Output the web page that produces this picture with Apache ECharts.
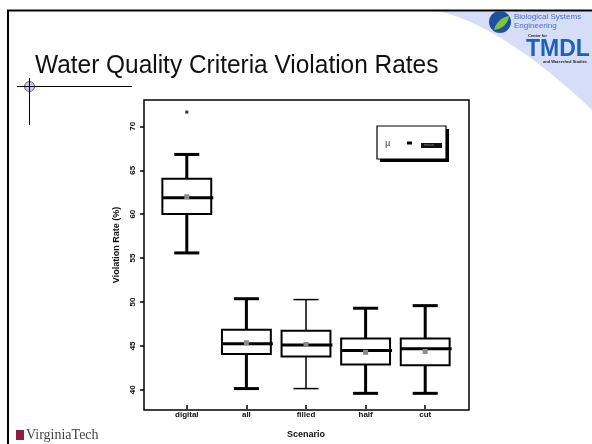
<!DOCTYPE html>
<html><head><meta charset="utf-8">
<script src="https://cdn.jsdelivr.net/npm/echarts@6/dist/echarts.min.js"></script>
<style>html,body{margin:0;padding:0;background:#fff}#c{width:592px;height:444px}</style>
</head><body><div id="c"></div>
<script>
// ---- data ----
const categories = ['digital', 'all', 'filled', 'half', 'cut'];
const lowWhisker = [55.3, 39.6, 39.6, 39.05, 39.05];
const q1 = [59.8, 43.6, 43.3, 42.4, 42.3];
const medians = [61.7, 44.8, 44.65, 44.0, 44.2];
const q3 = [63.9, 46.4, 46.3, 45.4, 45.4];
const highWhisker = [66.7, 50.0, 49.9, 48.9, 49.2];
const means = [61.8, 44.9, 44.7, 43.8, 43.9];
const outliers = [['digital', 71.6]];
const yTicks = [40, 45, 50, 55, 60, 65, 70];

// styles (not data)
const whiskerW = [3, 3, 1.5, 3, 3];

const boxData = categories.map((c, i) => [i, lowWhisker[i], q1[i], medians[i], q3[i], highWhisker[i], means[i]]);

function bezierPts(p0, p1, p2, p3, n) {
  const pts = [];
  for (let k = 0; k <= n; k++) {
    const t = k / n, u = 1 - t;
    pts.push([
      u*u*u*p0[0] + 3*u*u*t*p1[0] + 3*u*t*t*p2[0] + t*t*t*p3[0],
      u*u*u*p0[1] + 3*u*u*t*p1[1] + 3*u*t*t*p2[1] + t*t*t*p3[1]
    ]);
  }
  return pts;
}
const swoosh = bezierPts([435, 11], [480, 18], [540, 60], [592, 110], 30).concat([[592, 11]]);
const leaf = bezierPts([494, 30], [496, 22], [502, 17], [509, 16], 10).concat(bezierPts([509, 16], [508, 24], [502, 29], [494, 30], 10));

const chart = echarts.init(document.getElementById('c'), null, {renderer: 'canvas'});
const yRange = {min: 37.7, max: 73};

function renderBox(params, api) {
  const i = api.value(0);
  const band = api.size([1, 0])[0];
  const hw = band * 0.41;
  const cw = band * 0.21;
  const x = api.coord([i, 0])[0];
  const yLo = api.coord([i, api.value(1)])[1];
  const yQ1 = api.coord([i, api.value(2)])[1];
  const yMed = api.coord([i, api.value(3)])[1];
  const yQ3 = api.coord([i, api.value(4)])[1];
  const yHi = api.coord([i, api.value(5)])[1];
  const yMean = api.coord([i, api.value(6)])[1];
  const ww = whiskerW[i];
  const ls = {stroke: '#000', lineWidth: ww, fill: null};
  return {
    type: 'group',
    children: [
      {type: 'line', shape: {x1: x, y1: yHi, x2: x, y2: yQ3}, style: ls},
      {type: 'line', shape: {x1: x, y1: yQ1, x2: x, y2: yLo}, style: ls},
      {type: 'line', shape: {x1: x - cw, y1: yHi, x2: x + cw, y2: yHi}, style: ls},
      {type: 'line', shape: {x1: x - cw, y1: yLo, x2: x + cw, y2: yLo}, style: ls},
      {type: 'rect', shape: {x: x - hw, y: yQ3, width: 2 * hw, height: yQ1 - yQ3}, style: {stroke: '#000', lineWidth: 2, fill: '#fff'}},
      {type: 'line', shape: {x1: x - hw, y1: yMed, x2: x + hw + 2, y2: yMed}, style: {stroke: '#000', lineWidth: 3}},
      {type: 'rect', shape: {x: x - 2.5, y: yMean - 2.5, width: 5, height: 5}, style: {fill: '#8a8a8a', stroke: null}}
    ]
  };
}

const option = {
  backgroundColor: '#fff',
  animation: false,
  grid: [
    {left: 144, top: 100, width: 325, height: 310, show: true, borderColor: '#000', borderWidth: 1.5, backgroundColor: 'transparent'},
    {left: 157, top: 100, width: 298, height: 310}
  ],
  xAxis: [
    {gridIndex: 0, type: 'value', min: 0, max: 1, show: false},
    {gridIndex: 1, type: 'category', data: categories,
      name: 'Scenario', nameLocation: 'middle', nameGap: 25,
      nameTextStyle: {fontFamily: 'Liberation Sans', fontWeight: 'bold', fontSize: 9, color: '#111'},
      axisLine: {show: false},
      axisTick: {show: true, alignWithLabel: true, length: 4, lineStyle: {color: '#000', width: 1.5}},
      axisLabel: {fontFamily: 'Liberation Sans', fontWeight: 'bold', fontSize: 8, color: '#111', margin: 6},
      splitLine: {show: false}}
  ],
  yAxis: [
    {gridIndex: 0, type: 'value', min: yRange.min, max: yRange.max,
      name: 'Violation Rate (%)', nameLocation: 'middle', nameRotate: 90, nameGap: 22,
      nameTextStyle: {fontFamily: 'Liberation Sans', fontWeight: 'bold', fontSize: 9, color: '#111', padding: [0, 0, 0, 20]},
      axisLine: {show: false},
      axisTick: {show: true, length: 4, customValues: yTicks, lineStyle: {color: '#000', width: 1.5}},
      axisLabel: {show: true, customValues: yTicks, rotate: 90, fontFamily: 'Liberation Sans', fontWeight: 'bold', fontSize: 8, color: '#111', margin: 7},
      splitLine: {show: false}},
    {gridIndex: 1, type: 'value', min: yRange.min, max: yRange.max, show: false, splitLine: {show: false}}
  ],
  series: [
    {type: 'custom', xAxisIndex: 1, yAxisIndex: 1, renderItem: renderBox, data: boxData,
      encode: {x: 0, y: [1, 2, 3, 4, 5, 6]}, z: 5},
    {type: 'scatter', xAxisIndex: 1, yAxisIndex: 1, data: outliers, symbol: 'rect', symbolSize: 3,
      itemStyle: {color: '#000'}, z: 6}
  ],
  graphic: [
    {type: 'polygon', shape: {points: swoosh}, style: {fill: '#d6ddf6'}, z: 0},
    {type: 'line', shape: {x1: 7, y1: 10.5, x2: 592, y2: 10.5}, style: {stroke: '#000', lineWidth: 2}},
    {type: 'line', shape: {x1: 8, y1: 10, x2: 8, y2: 444}, style: {stroke: '#000', lineWidth: 2}},
    {type: 'line', shape: {x1: 17, y1: 86.5, x2: 132, y2: 86.5}, style: {stroke: '#000', lineWidth: 1}},
    {type: 'line', shape: {x1: 29.5, y1: 78, x2: 29.5, y2: 125}, style: {stroke: '#000', lineWidth: 1}},
    {type: 'circle', shape: {cx: 29.5, cy: 86.5, r: 5}, style: {fill: '#c3cff0', stroke: '#334', lineWidth: 0.7}},
    {type: 'line', shape: {x1: 22, y1: 86.5, x2: 37, y2: 86.5}, style: {stroke: '#000', lineWidth: 1}, z: 10},
    {type: 'line', shape: {x1: 29.5, y1: 80, x2: 29.5, y2: 93}, style: {stroke: '#000', lineWidth: 1}, z: 10},
    {type: 'text', x: 35, y: 53, scaleX: 0.94, style: {text: 'Water Quality Criteria Violation Rates', font: '26px "Liberation Sans", sans-serif', fill: '#111'}},
    // logos
    {type: 'circle', shape: {cx: 500, cy: 22, r: 11}, style: {fill: '#1f4f9f'}},
    {type: 'polygon', shape: {points: leaf}, style: {fill: '#7cc242'}, z: 11},
    {type: 'text', left: 514, top: 13, style: {text: 'Biological Systems', font: '8px "Liberation Sans", sans-serif', fill: '#4a6cc0'}},
    {type: 'text', left: 514, top: 22, style: {text: 'Engineering', font: '8px "Liberation Sans", sans-serif', fill: '#4a6cc0'}},
    {type: 'text', left: 528, top: 34, style: {text: 'Center for', font: 'bold 4px "Liberation Sans", sans-serif', fill: '#222'}},
    {type: 'text', left: 526, top: 38, style: {text: 'TMDL', font: 'bold 23px "Liberation Sans", sans-serif', fill: '#1c62b5'}},
    {type: 'text', left: 543, top: 60, style: {text: 'and Watershed Studies', font: 'bold 4px "Liberation Sans", sans-serif', fill: '#222'}},
    {type: 'rect', shape: {x: 16, y: 430, width: 8, height: 10}, style: {fill: '#8b1d3d'}},
    {type: 'text', left: 26, top: 428, style: {text: 'VirginiaTech', font: '14px "Liberation Serif", serif', fill: '#444'}},
    // legend box
    {type: 'rect', shape: {x: 380, y: 129, width: 69, height: 33}, style: {fill: '#000'}, z: 4},
    {type: 'rect', shape: {x: 377, y: 126, width: 69, height: 33}, style: {fill: '#fff', stroke: '#000', lineWidth: 1.2}, z: 5},
    {type: 'text', left: 385, top: 139, style: {text: 'μ', font: 'bold 9px "Liberation Sans", sans-serif', fill: '#777'}, z: 6},
    {type: 'rect', shape: {x: 407, y: 141.5, width: 5, height: 3}, style: {fill: '#000'}, z: 6},
    {type: 'rect', shape: {x: 421, y: 143, width: 21, height: 5}, style: {fill: '#111'}, z: 6},
    {type: 'text', left: 424, top: 142.5, style: {text: 'mean', font: '4px "Liberation Sans", sans-serif', fill: '#888'}, z: 7}
  ]
};
chart.setOption(option);
</script>
</body></html>
